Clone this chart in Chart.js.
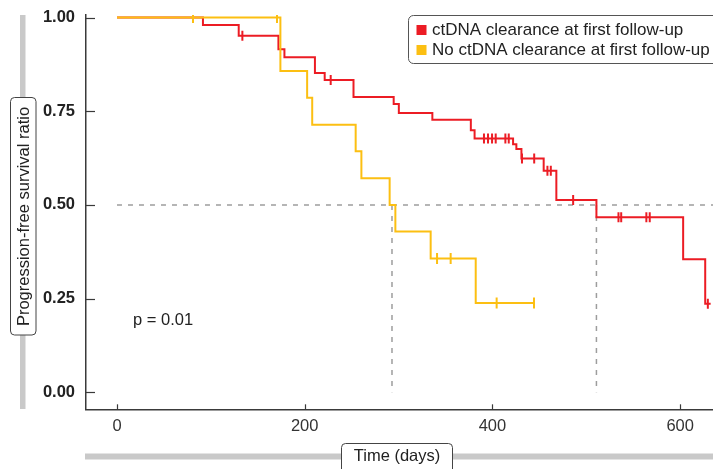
<!DOCTYPE html>
<html>
<head>
<meta charset="utf-8">
<script src="https://cdn.jsdelivr.net/npm/chart.js@4/dist/chart.umd.min.js"></script>
<style>
html,body{margin:0;padding:0;background:#fff;}
#wrap{width:713px;height:469px;position:relative;overflow:hidden;}
</style>
</head>
<body>
<div id="wrap"><canvas id="c" width="713" height="469"></canvas></div>
<script>
// ---- data ----
const seriesNames = ['ctDNA clearance at first follow-up', 'No ctDNA clearance at first follow-up'];
const clearTimes = [0, 91.6, 129.7, 172, 178.4, 210.9, 221.3, 252, 294.8, 300.3, 336, 377, 381, 422, 425.5, 430.9, 454.6, 468.1, 510.8, 603.2, 626.7, 632.5];
const clearSurv  = [1, 0.980, 0.951, 0.915, 0.894, 0.852, 0.833, 0.788, 0.769, 0.745, 0.727, 0.699, 0.677, 0.662, 0.649, 0.624, 0.591, 0.513, 0.467, 0.355, 0.236, 0.236];
const clearCensor = [133.6, 227.7, 391, 395.3, 399.6, 403.5, 413.8, 417.4, 431.5, 444.5, 458.6, 462.2, 486, 534.3, 537.2, 564, 567.6, 629.5];
const noClearTimes = [0, 174.1, 202.6, 208, 254.3, 260.4, 290.5, 296.6, 334.2, 382.2, 444.3];
const noClearSurv  = [1, 0.857, 0.786, 0.714, 0.643, 0.571, 0.5, 0.429, 0.357, 0.238, 0.238];
const noClearCensor = [81, 170.5, 341, 355.5, 404.5, 444.3];
const medianTimes = [293, 510.8];
const medianLevel = 0.5;
const yTicks = [0, 0.25, 0.5, 0.75, 1];
const xTicks = [0, 200, 400, 600];
const pValueText = 'p = 0.01';
const xTitle = 'Time (days)';
const yTitle = 'Progression-free survival ratio';

// ---- styles ----
const RED = '#EC1C24', YEL = '#FCBF12', DASH = '#9d9d9d', AXIS = '#3a3a3a';
const FONT = '"Liberation Sans", Arial, Helvetica, sans-serif';

function survAt(times, surv, t) {
  let v = surv[0];
  for (let i = 0; i < times.length; i++) { if (times[i] <= t) v = surv[i]; }
  return v;
}
const toPts = (ts, vs) => ts.map((t, i) => ({x: t, y: vs[i]}));
const censorPts = (cs, ts, vs) => cs.map(t => ({x: t, y: survAt(ts, vs, t)}));

const datasets = [
  {label: seriesNames[1], data: toPts(noClearTimes, noClearSurv), borderColor: YEL, borderWidth: 2,
   stepped: true, pointRadius: 0, fill: false, order: 1},
  {label: 'censor-no', data: censorPts(noClearCensor, noClearTimes, noClearSurv), showLine: false,
   pointStyle: 'line', rotation: 90, pointRadius: 5.5, pointBorderWidth: 2, pointBorderColor: YEL,
   borderColor: YEL, order: 1},
  {label: seriesNames[0], data: toPts(clearTimes, clearSurv), borderColor: RED, borderWidth: 2,
   stepped: true, pointRadius: 0, fill: false, order: 2},
  {label: 'censor-clear', data: censorPts(clearCensor, clearTimes, clearSurv), showLine: false,
   pointStyle: 'line', rotation: 90, pointRadius: 5, pointBorderWidth: 2, pointBorderColor: RED,
   borderColor: RED, order: 2},
  {label: 'median-h', data: [{x: 0, y: medianLevel}, {x: 640, y: medianLevel}], borderColor: DASH,
   borderWidth: 1.5, borderDash: [5, 6], pointRadius: 0, order: 5}
].concat(medianTimes.map(t => ({
  label: 'median-v', data: [{x: t, y: medianLevel}, {x: t, y: 0}], borderColor: DASH,
  borderWidth: 1.5, borderDash: [5, 6], pointRadius: 0, order: 5
})));

function roundRect(ctx, x, y, w, h, r) {
  ctx.beginPath();
  ctx.moveTo(x + r, y);
  ctx.lineTo(x + w - r, y); ctx.arcTo(x + w, y, x + w, y + r, r);
  ctx.lineTo(x + w, y + h - r); ctx.arcTo(x + w, y + h, x + w - r, y + h, r);
  ctx.lineTo(x + r, y + h); ctx.arcTo(x, y + h, x, y + h - r, r);
  ctx.lineTo(x, y + r); ctx.arcTo(x, y, x + r, y, r);
  ctx.closePath();
}

const decor = {
  id: 'decor',
  afterDraw(chart) {
    const ctx = chart.ctx, xs = chart.scales.x, ys = chart.scales.y, ca = chart.chartArea;
    ctx.save();
    // inward ticks
    ctx.strokeStyle = AXIS; ctx.lineWidth = 1.2;
    yTicks.forEach(v => {
      const py = Math.round(ys.getPixelForValue(v)) + 0.5;
      ctx.beginPath(); ctx.moveTo(ca.left, py); ctx.lineTo(ca.left + 9, py); ctx.stroke();
    });
    xTicks.forEach(v => {
      const px = Math.round(xs.getPixelForValue(v)) + 0.5;
      ctx.beginPath(); ctx.moveTo(px, ca.bottom); ctx.lineTo(px, ca.bottom - 5); ctx.stroke();
    });
    // p value
    ctx.fillStyle = '#222'; ctx.font = '16.5px ' + FONT;
    ctx.textAlign = 'left'; ctx.textBaseline = 'middle';
    ctx.fillText(pValueText, 133, 320);

    // y title bar + box
    ctx.fillStyle = '#c9c9c9';
    ctx.fillRect(20, 15, 5.5, 394);
    roundRect(ctx, 10.5, 97.5, 25.5, 237.5, 4);
    ctx.fillStyle = '#fff'; ctx.fill();
    ctx.strokeStyle = '#444'; ctx.lineWidth = 1; ctx.stroke();
    ctx.save();
    ctx.translate(24, 216.5); ctx.rotate(-Math.PI / 2);
    ctx.fillStyle = '#222'; ctx.font = '16.5px ' + FONT;
    ctx.textAlign = 'center'; ctx.textBaseline = 'middle';
    ctx.fillText(yTitle, 0, 0);
    ctx.restore();

    // x title bar + box
    ctx.fillStyle = '#c9c9c9';
    ctx.fillRect(85, 453.5, 630, 6);
    roundRect(ctx, 341.5, 443.5, 111, 30, 4);
    ctx.fillStyle = '#fff'; ctx.fill();
    ctx.strokeStyle = '#444'; ctx.lineWidth = 1; ctx.stroke();
    ctx.fillStyle = '#222'; ctx.font = '16.5px ' + FONT;
    ctx.textAlign = 'center'; ctx.textBaseline = 'middle';
    ctx.fillText(xTitle, 397, 456.5);

    // legend
    roundRect(ctx, 408.5, 15.5, 310, 48, 5);
    ctx.fillStyle = '#fff'; ctx.fill();
    ctx.strokeStyle = '#555'; ctx.lineWidth = 1; ctx.stroke();
    const items = [[seriesNames[0], RED, 30], [seriesNames[1], YEL, 50]];
    ctx.font = '17px ' + FONT; ctx.textAlign = 'left'; ctx.textBaseline = 'middle';
    items.forEach(([txt, col, cy]) => {
      ctx.fillStyle = col; ctx.fillRect(416.5, cy - 5, 10, 10);
      ctx.fillStyle = '#222'; ctx.fillText(txt, 432, cy + 0.5);
    });
    ctx.restore();
  }
};

function noPad(s) { s.paddingTop = 0; s.paddingBottom = 0; s.paddingLeft = 0; s.paddingRight = 0; }

new Chart(document.getElementById('c'), {
  type: 'line',
  data: {datasets},
  options: {
    responsive: false,
    animation: false,
    events: [],
    layout: {autoPadding: false, padding: {top: 15, left: 0, right: 0, bottom: 0}},
    plugins: {legend: {display: false}, tooltip: {enabled: false}, title: {display: false}},
    scales: {
      x: {
        type: 'linear', min: -33, max: 635,
        afterBuildTicks: s => { s.ticks = xTicks.map(v => ({value: v})); },
        afterFit: s => { s.height = 59.7; noPad(s); },
        grid: {display: false, drawTicks: false},
        border: {display: true, color: AXIS, width: 1.5},
        ticks: {color: '#333', font: {family: FONT, size: 16.5}, padding: 7, callback: v => String(v), maxRotation: 0}
      },
      y: {
        type: 'linear', min: -0.0454, max: 1.0067,
        afterBuildTicks: s => { s.ticks = yTicks.map(v => ({value: v})); },
        afterFit: s => { s.width = 86; noPad(s); },
        grid: {display: false, drawTicks: false},
        border: {display: true, color: AXIS, width: 1.5},
        ticks: {color: '#222', font: {family: FONT, size: 16.5, weight: 'bold'}, padding: 11, callback: v => v.toFixed(2)}
      }
    }
  },
  plugins: [decor]
});
</script>
</body>
</html>
